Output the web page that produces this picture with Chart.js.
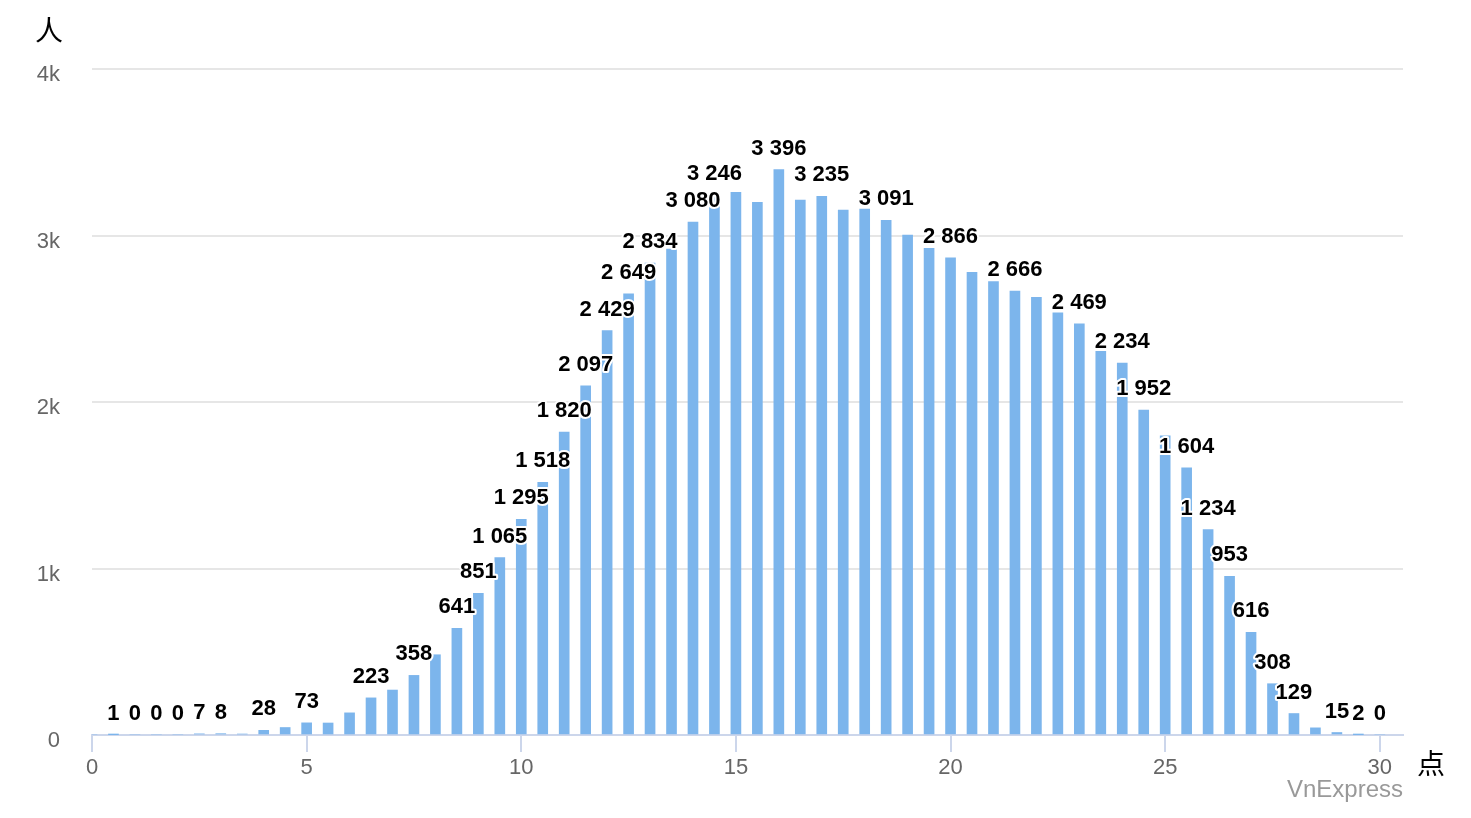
<!DOCTYPE html>
<html>
<head>
<meta charset="utf-8">
<script src="https://cdn.jsdelivr.net/npm/chart.js@4/dist/chart.umd.min.js"></script>
<style>
  html, body { margin: 0; padding: 0; background: #fff; }
  #wrap { width: 1471px; height: 818px; position: relative; }
</style>
</head>
<body>
<div id="wrap"><canvas id="chartScores"></canvas></div>
<script>
// ── Données : nombre de candidats par tranche de 0,5 point ──
const scores = [0, 0.5, 1, 1.5, 2, 2.5, 3, 3.5, 4, 4.5, 5, 5.5, 6, 6.5, 7, 7.5, 8, 8.5, 9, 9.5,
  10, 10.5, 11, 11.5, 12, 12.5, 13, 13.5, 14, 14.5, 15, 15.5, 16, 16.5, 17, 17.5, 18, 18.5, 19, 19.5,
  20, 20.5, 21, 21.5, 22, 22.5, 23, 23.5, 24, 24.5, 25, 25.5, 26, 26.5, 27, 27.5, 28, 28.5, 29, 29.5, 30];
const counts = [0, 1, 0, 0, 0, 7, 8, 6, 28, 45, 73, 72, 133, 223, 270, 358, 482, 641, 851, 1065,
  1295, 1518, 1820, 2097, 2429, 2649, 2834, 2919, 3080, 3246, 3259, 3199, 3396, 3213, 3235, 3153, 3159, 3091, 3003, 2923,
  2866, 2779, 2723, 2666, 2629, 2535, 2469, 2304, 2234, 1952, 1797, 1604, 1234, 953, 616, 308, 129, 43, 15, 2, 0];
// scores whose bar carries a value label
const labelled = [0.5, 1, 1.5, 2, 2.5, 3, 4, 5, 6.5, 7.5, 8.5, 9, 9.5, 10, 10.5, 11, 11.5, 12, 12.5, 13,
  14, 14.5, 16, 17, 18.5, 20, 21.5, 23, 24, 24.5, 25.5, 26, 26.5, 27, 27.5, 28, 29, 29.5, 30];
const xTicks = [0, 5, 10, 15, 20, 25, 30];
const yTicks = [0, 1000, 2000, 3000, 4000];
const yTickLabels = ['0', '1k', '2k', '3k', '4k'];

const LATIN = '"Liberation Sans", Arial, sans-serif';
const CJK = '"Noto Sans CJK SC", "Noto Sans CJK JP", sans-serif';

const fmt = v => String(v).replace(/\B(?=(\d{3})+(?!\d))/g, ' ');

// étiquettes de valeur (noir, contour blanc)
const valueLabels = {
  id: 'valueLabels',
  afterDatasetsDraw(chart) {
    const ctx = chart.ctx;
    const meta = chart.getDatasetMeta(0);
    ctx.save();
    ctx.font = 'bold 22px ' + LATIN;
    ctx.textAlign = 'center';
    ctx.textBaseline = 'middle';
    ctx.lineJoin = 'round';
    scores.forEach((s, i) => {
      if (!labelled.includes(s)) return;
      const el = meta.data[i];
      const txt = fmt(counts[i]);
      const y = el.y - 21;
      ctx.strokeStyle = '#fff';
      ctx.lineWidth = 4;
      ctx.strokeText(txt, el.x, y);
      ctx.fillStyle = '#000';
      ctx.fillText(txt, el.x, y);
    });
    ctx.restore();
  }
};

// titres d'axes et source
const extraText = {
  id: 'extraText',
  afterDraw(chart) {
    const ctx = chart.ctx;
    const a = chart.chartArea;
    ctx.save();
    ctx.fillStyle = '#000';
    ctx.font = '28px ' + CJK;
    ctx.textAlign = 'center';
    ctx.textBaseline = 'middle';
    ctx.fillText('人', 49, 30);
    ctx.fillText('点', a.right + 28, 763);
    ctx.fillStyle = '#999';
    ctx.font = '24px ' + LATIN;
    ctx.textAlign = 'right';
    ctx.fillText('VnExpress', a.right, 790);
    ctx.restore();
  }
};

new Chart(document.getElementById('chartScores'), {
  type: 'bar',
  data: {
    datasets: [{
      data: scores.map((s, i) => ({ x: s, y: counts[i] })),
      backgroundColor: '#7cb5ec',
      barThickness: 10,
      borderWidth: 0
    }]
  },
  options: {
    responsive: true,
    maintainAspectRatio: false,
    animation: false,
    layout: { padding: { left: 0, right: 68, top: 69, bottom: 40 } },
    plugins: { legend: { display: false }, tooltip: { enabled: false } },
    scales: {
      x: {
        type: 'linear',
        offset: false,
        min: 0,
        max: 30.54,
        afterBuildTicks: sc => { sc.ticks = xTicks.map(v => ({ value: v })); },
        afterFit: sc => { sc.height = 43; },
        grid: { offset: false, drawOnChartArea: false, drawTicks: true, tickLength: 17, color: '#ccd6eb', lineWidth: 2 },
        border: { color: '#ccd6eb', width: 2 },
        ticks: { color: '#666', font: { size: 22, family: LATIN }, padding: 3, maxRotation: 0 }
      },
      y: {
        min: 0,
        max: 4000,
        afterBuildTicks: sc => { sc.ticks = yTicks.map(v => ({ value: v })); },
        afterFit: sc => { sc.width = 92; },
        grid: { color: '#e6e6e6', lineWidth: 2, drawTicks: false, tickLength: 0 },
        border: { display: false },
        ticks: {
          color: '#666',
          font: { size: 22, family: LATIN },
          padding: 32,
          labelOffset: 6,
          callback: (v) => yTickLabels[yTicks.indexOf(v)]
        }
      }
    }
  },
  plugins: [valueLabels, extraText]
});
</script>
</body>
</html>
